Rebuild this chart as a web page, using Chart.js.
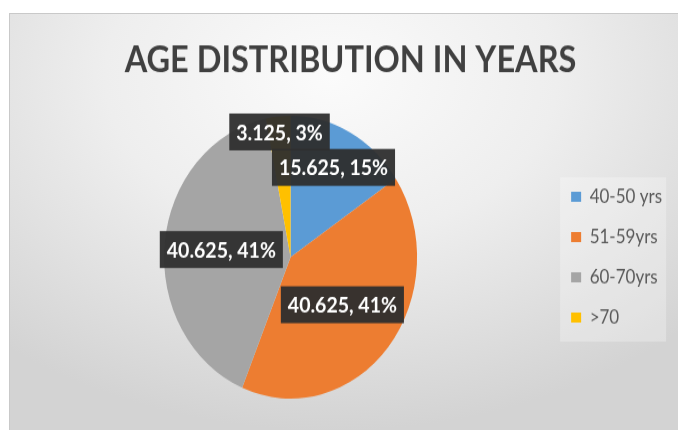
<!DOCTYPE html>
<html>
<head>
<meta charset="utf-8">
<script src="https://cdn.jsdelivr.net/npm/chart.js@4.4.1/dist/chart.umd.min.js"></script>
<style>
  html, body { margin: 0; padding: 0; background: #fff; }
  #frame {
    position: absolute; left: 9px; top: 13px; width: 669px; height: 417px;
    border-top: 1px solid #c9c9c9; border-left: 1px solid #c9c9c9;
    background: radial-gradient(ellipse 75% 85% at 48% 15%, #fbfbfb 0%, #eeeeee 45%, #d3d3d3 100%);
    overflow: hidden;
  }
  /* the whole chart is drawn a bit taller than wide */
  #stretch { width: 669px; height: 372px; transform: scaleY(1.118); transform-origin: 0 0; }
</style>
</head>
<body>
<div id="frame">
  <div id="stretch">
    <canvas id="ageChart" width="669" height="372"></canvas>
  </div>
</div>
<script>
const ageLabels = ['40-50 yrs', '51-59yrs', '60-70yrs', '>70']
const ageValues = [15.625, 40.625, 40.625, 3.125]
const agePercents = [15, 41, 41, 3]
const sliceColors = ['#5b9bd5', '#ed7d31', '#a5a5a5', '#ffc000']

// how far out along each slice its value box sits, as a share of the radius
const labelReach = [0.72, 0.53, 0.55, 0.89]

// faint panel behind the legend entries
const legendPanel = {
  id: 'legendPanel',
  beforeDraw(chart) {
    const boxes = chart.legend && chart.legend.legendHitBoxes
    if (!boxes || !boxes.length) return
    const first = boxes[0]
    const last = boxes[boxes.length - 1]
    const ctx = chart.ctx
    ctx.save()
    ctx.fillStyle = 'rgba(255, 255, 255, 0.28)'
    ctx.fillRect(first.left - 11, first.top - 9, 106, last.top + last.height - first.top + 22)
    ctx.restore()
  },
}

// dark value boxes: "value, percent%"
const valueBoxes = {
  id: 'valueBoxes',
  afterDatasetsDraw(chart) {
    const ctx = chart.ctx
    const arcs = chart.getDatasetMeta(0).data
    ctx.save()
    ctx.font = 'bold 19.5px Lato'
    ctx.textAlign = 'center'
    ctx.textBaseline = 'middle'
    arcs.forEach((arc, i) => {
      const { x, y, startAngle, endAngle, outerRadius } = arc.getProps(
        ['x', 'y', 'startAngle', 'endAngle', 'outerRadius'],
        true
      )
      const mid = (startAngle + endAngle) / 2
      const r = outerRadius * labelReach[i]
      const cx = x + Math.cos(mid) * r
      const cy = y + Math.sin(mid) * r
      const text = ageValues[i] + ', ' + agePercents[i] + '%'
      const w = ctx.measureText(text).width + 14
      const h = 33
      ctx.fillStyle = 'rgba(46, 46, 46, 0.95)'
      ctx.fillRect(cx - w / 2, cy - h / 2, w, h)
      ctx.fillStyle = '#ffffff'
      ctx.fillText(text, cx, cy + 1)
    })
    ctx.restore()
  },
}

function drawChart() {
  new Chart(document.getElementById('ageChart'), {
    type: 'pie',
    data: {
      labels: ageLabels,
      datasets: [
        {
          data: ageValues,
          backgroundColor: sliceColors,
          borderWidth: 0,
        },
      ],
    },
    options: {
      responsive: false,
      animation: false,
      layout: { padding: { left: 19, right: 7, top: 0, bottom: 28 } },
      plugins: {
        title: {
          display: true,
          text: 'AGE DISTRIBUTION IN YEARS',
          color: '#404040',
          font: { family: 'Lato', size: 32.5, weight: 'bold', lineHeight: 1.2 },
          padding: { top: 22, bottom: 30 },
        },
        legend: {
          position: 'right',
          fullSize: false,
          labels: {
            boxWidth: 10,
            boxHeight: 9,
            padding: 19,
            color: '#595959',
            font: { family: 'Lato', size: 17 },
          },
        },
        tooltip: { enabled: false },
      },
    },
    plugins: [legendPanel, valueBoxes],
  })
}

document.fonts.load('bold 18px Lato').then(drawChart, drawChart)
</script>
</body>
</html>
